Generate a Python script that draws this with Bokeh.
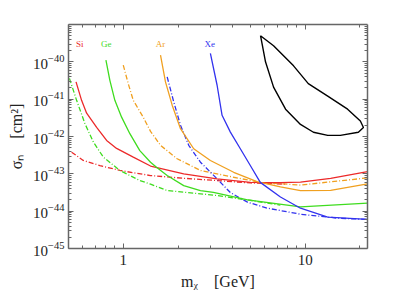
from bokeh.plotting import figure
from bokeh.models import FixedTicker, LogAxis, Label, NumeralTickFormatter
from bokeh.embed import file_html
from bokeh.resources import INLINE

# ---------------- data (mass in GeV, cross-section in cm^2) ----------------
si_solid_m = [0.550, 0.590, 0.629, 0.714, 0.810, 0.919, 1.135, 1.412, 2.149, 3.279, 4.992, 7.3, 9.42, 13.8, 22]
si_solid_s = [2.9e-41, 9.3e-42, 4.2e-42, 1.76e-42, 7.85e-43, 4.8e-43, 2.8e-43, 1.62e-43, 1.0e-43, 7.35e-44,
              5.94e-44, 5.8e-44, 6.0e-44, 7.6e-44, 1.15e-43]

si_dd_m = [0.520, 0.603, 0.744, 0.958, 1.412, 2.149, 3.279, 4.992, 6.45, 7.8]
si_dd_s = [3.8e-43, 2.28e-43, 1.67e-43, 1.23e-43, 9.0e-44, 7.6e-44, 6.6e-44, 5.7e-44, 5.5e-44, 5.3e-44]

ge_solid_m = [0.803, 0.844, 0.899, 0.979, 1.087, 1.233, 1.412, 1.523, 1.743, 2.149, 2.655, 3.13, 4.82, 9.42, 22]
ge_solid_s = [1.11e-40, 3.2e-41, 9.3e-42, 3.3e-42, 1.19e-42, 4.2e-43, 2.05e-43, 1.5e-43, 9.0e-44, 4.84e-44,
              3.56e-44, 3.2e-44, 2.0e-44, 1.3e-44, 1.65e-44]

ge_dd_m = [0.506, 0.554, 0.616, 0.685, 0.777, 0.958, 1.233, 1.412, 1.743, 3.13, 4.82, 7.3]
ge_dd_s = [3.6e-41, 9.3e-42, 2.2e-42, 7.1e-43, 2.8e-43, 1.23e-43, 6.6e-44, 5.3e-44, 3.56e-44, 2.7e-44, 2.0e-44, 1.45e-44]

ar_solid_m = [1.602, 1.706, 1.857, 2.063, 2.439, 3.012, 4.045, 5.433, 7.31, 9.42, 13.8, 22]
ar_solid_s = [1.51e-40, 2.9e-41, 6.9e-42, 1.62e-42, 4.7e-43, 2.28e-43, 1.1e-43, 6.2e-44, 4.5e-44, 3.56e-44, 3.6e-44, 5.4e-44]

ar_dd_m = [1.0, 1.065, 1.135, 1.287, 1.412, 1.491, 1.602, 1.978, 2.655, 4.045, 5.664, 9.42, 22]
ar_dd_s = [8.2e-41, 2.6e-41, 9.3e-42, 3.3e-42, 1.37e-42, 9.5e-43, 5.8e-43, 2.53e-43, 1.23e-43, 8.1e-44, 5.9e-44,
           5.0e-44, 7.8e-44]

xe_solid_m = [3.012, 3.279, 3.492, 3.879, 4.400, 4.992, 5.664, 7.31, 9.42, 13.3, 22]
xe_solid_s = [1.68e-40, 2.36e-41, 3.7e-42, 1.31e-42, 4.7e-43, 1.67e-43, 5.9e-44, 2.4e-44, 1.2e-44, 6.9e-45, 6.0e-45]

xe_dd_m = [1.743, 1.895, 2.063, 2.290, 2.655, 3.279, 3.879, 4.82, 6.21, 9.42, 15.1, 22]
xe_dd_s = [3.95e-41, 8.4e-42, 2.0e-42, 5.8e-43, 2.05e-43, 7.35e-44, 3.14e-44, 1.74e-44, 1.2e-44, 8.3e-45, 6.5e-45, 6.0e-45]

contour_m = [5.68, 6.70, 8.63, 10.4, 13.3, 17.1, 20.1, 20.9, 19.6, 15.6, 13.3, 11.1, 9.42, 7.80, 6.70, 6.05, 5.82, 5.68]
contour_s = [5.0e-40, 2.7e-40, 7.8e-41, 2.6e-41, 1.2e-41, 5.4e-42, 2.6e-42, 1.74e-42, 1.3e-42, 1.07e-42,
             1.07e-42, 1.3e-42, 2.1e-42, 5.4e-42, 2.1e-41, 1.0e-40, 2.7e-40, 5.0e-40]

element_names = ["Si", "Ge", "Ar", "Xe"]
element_label_m = [0.576, 0.805, 1.60, 2.99]
element_label_s = 3.0e-40

x_ticks = [1, 10]
y_ticks = [1e-45, 1e-44, 1e-43, 1e-42, 1e-41, 1e-40]

RED, GREEN, ORANGE, BLUE = "#ec2a2a", "#3fdc1f", "#f0a020", "#3232ee"
COLORS = [RED, GREEN, ORANGE, BLUE]
FONT = "Liberation Serif"
NB = "\u00a0"

x_minor = [k * 10.0 ** e for e in (-1, 0, 1) for k in range(2, 10)]
y_minor = [k * 10.0 ** e for e in range(-45, -39) for k in range(2, 10)]

p = figure(x_axis_type="log", y_axis_type="log", x_range=(0.5, 22), y_range=(1e-45, 1e-39),
           width=392, height=292,
           min_border_left=68, min_border_top=24, min_border_right=25, min_border_bottom=44,
           output_backend="svg", toolbar_location=None)
p.grid.visible = False
p.outline_line_color = None
p.background_fill_color = "white"


def style_axis(ax, labels=True):
    ax.axis_line_color = "#666666"
    ax.axis_line_width = 1.5
    ax.major_tick_line_color = "#666666"
    ax.minor_tick_line_color = "#666666"
    ax.major_tick_in = 5
    ax.major_tick_out = 0
    ax.minor_tick_in = 3
    ax.minor_tick_out = 0
    ax.major_label_text_font = FONT
    ax.major_label_text_font_size = "15px"
    ax.major_label_text_color = "#222222"
    ax.axis_label_text_font = FONT
    ax.axis_label_text_font_size = "16px"
    ax.axis_label_text_font_style = "normal"
    ax.axis_label_text_color = "#222222"
    ax.axis_label_standoff = 5
    if not labels:
        ax.major_label_text_font_size = "2px"
        ax.major_label_text_alpha = 0
        ax.major_label_standoff = 0


xa = p.xaxis[0]
xa.ticker = FixedTicker(ticks=x_ticks, minor_ticks=x_minor)
xa.formatter = NumeralTickFormatter(format="0")
xa.major_label_standoff = 6
style_axis(xa)
xa.axis_label = "mᵪ" + NB * 4 + "[GeV]"

ya = p.yaxis[0]
ya.ticker = FixedTicker(ticks=y_ticks, minor_ticks=y_minor)
ya.major_label_standoff = 4
style_axis(ya)
ya.axis_label = "σₙ" + NB * 4 + "[cm²]"

top = LogAxis(ticker=FixedTicker(ticks=x_ticks, minor_ticks=x_minor))
style_axis(top, labels=False)
p.add_layout(top, "above")
right = LogAxis(ticker=FixedTicker(ticks=y_ticks, minor_ticks=y_minor))
style_axis(right, labels=False)
p.add_layout(right, "right")

LW = 1.3
DD = "5 2 1 2"
p.line(si_dd_m, si_dd_s, color=RED, line_width=LW, line_dash=DD)
p.line(ge_dd_m, ge_dd_s, color=GREEN, line_width=LW, line_dash=DD)
p.line(ar_dd_m, ar_dd_s, color=ORANGE, line_width=LW, line_dash=DD)
p.line(xe_dd_m, xe_dd_s, color=BLUE, line_width=LW, line_dash=DD)
p.line(si_solid_m, si_solid_s, color=RED, line_width=LW)
p.line(ge_solid_m, ge_solid_s, color=GREEN, line_width=LW)
p.line(ar_solid_m, ar_solid_s, color=ORANGE, line_width=LW)
p.line(xe_solid_m, xe_solid_s, color=BLUE, line_width=LW)
p.line(contour_m, contour_s, color="black", line_width=1.4)

for txt, xm, col in zip(element_names, element_label_m, COLORS):
    p.add_layout(Label(x=xm, y=element_label_s, text=txt, text_color=col, text_font=FONT,
                       text_font_size="9px", text_align="center", text_baseline="middle"))

open("out.html", "w").write(file_html(p, INLINE))
